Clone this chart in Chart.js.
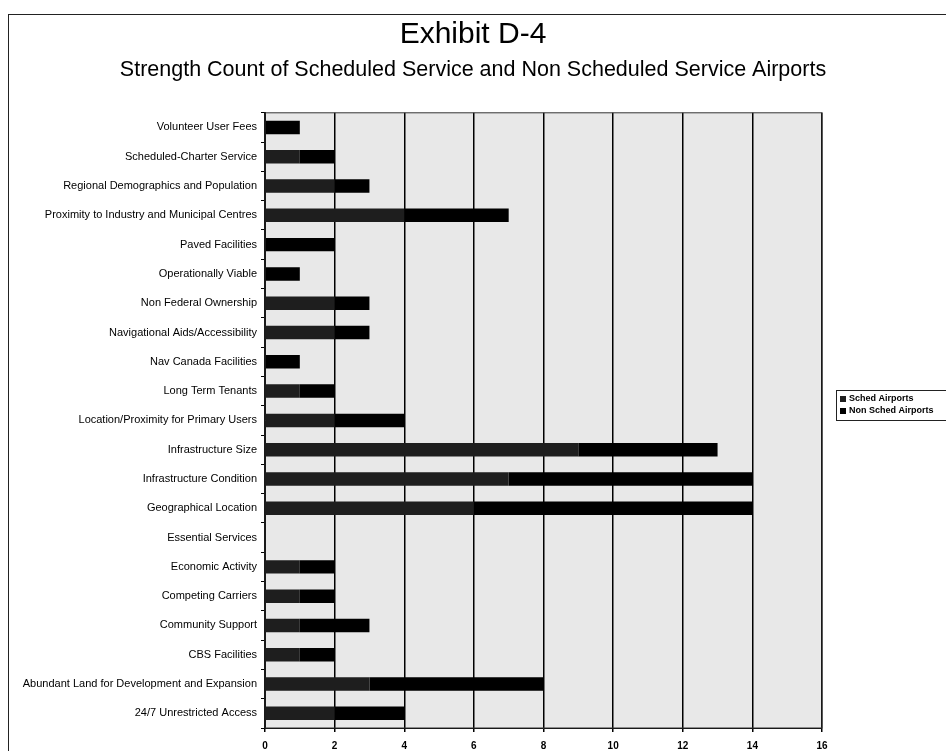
<!DOCTYPE html>
<html lang="en">
<head>
    <meta charset="UTF-8">
    <title>Exhibit D-4</title>
    <script src="https://cdn.jsdelivr.net/npm/chart.js"></script>
    <style>
        body { margin: 0; background: white; overflow: hidden; }
        .chart-container { width: 946px; height: 751px; }
    </style>
</head>
<body>
    <div class="chart-container">
        <canvas id="strengthChart" width="946" height="751"></canvas>
    </div>

    <script>
        // categories, top to bottom as in the exhibit
        const categories = [
            'Volunteer User Fees',
            'Scheduled-Charter Service',
            'Regional Demographics and Population',
            'Proximity to Industry and Municipal Centres',
            'Paved Facilities',
            'Operationally Viable',
            'Non Federal Ownership',
            'Navigational Aids/Accessibility',
            'Nav Canada Facilities',
            'Long Term Tenants',
            'Location/Proximity for Primary Users',
            'Infrastructure Size',
            'Infrastructure Condition',
            'Geographical Location',
            'Essential Services',
            'Economic Activity',
            'Competing Carriers',
            'Community Support',
            'CBS Facilities',
            'Abundant Land for Development and Expansion',
            '24/7 Unrestricted Access'
        ];

        // the scan barely separates the two series, split is estimated
        const schedAirports    = [0, 1, 2, 4, 0, 0, 2, 2, 0, 1, 2, 9, 7, 6, 0, 1, 1, 1, 1, 3, 2];
        const nonSchedAirports = [1, 1, 1, 3, 2, 1, 1, 1, 1, 1, 2, 4, 7, 8, 0, 1, 1, 2, 1, 5, 2];

        const xTicks = [0, 2, 4, 6, 8, 10, 12, 14, 16];

        const seriesNames = ['Sched Airports', 'Non Sched Airports'];
        const seriesColors = ['#1e1e1e', '#000000'];

        const FONT = '"Liberation Sans", Arial, sans-serif';

        // grey plot background + page frame + boxed legend
        const decorPlugin = {
            id: 'decor',
            beforeDraw(chart) {
                const ctx = chart.ctx;
                const a = chart.chartArea;
                ctx.save();
                ctx.fillStyle = 'white';
                ctx.fillRect(0, 0, chart.width, chart.height);
                ctx.fillStyle = '#e8e8e8';
                ctx.fillRect(a.left, a.top, a.right - a.left, a.bottom - a.top);
                ctx.restore();
            },
            afterDraw(chart) {
                const ctx = chart.ctx;
                const a = chart.chartArea;
                ctx.save();
                // outer frame (runs off the page right and bottom)
                ctx.strokeStyle = '#222';
                ctx.lineWidth = 1;
                ctx.strokeRect(8.5, 14.5, 960, 760);
                // plot border
                ctx.strokeStyle = '#333';
                ctx.strokeRect(a.left, a.top, a.right - a.left, a.bottom - a.top);

                // legend
                const lx = 836, ly = 390;
                ctx.fillStyle = 'white';
                ctx.fillRect(lx, ly, 120, 30);
                ctx.strokeStyle = '#222';
                ctx.strokeRect(lx + 0.5, ly + 0.5, 120, 30);
                ctx.font = 'bold 9px ' + FONT;
                ctx.textBaseline = 'middle';
                chart.data.datasets.forEach((ds, i) => {
                    const y = ly + 9 + i * 12;
                    ctx.fillStyle = ds.backgroundColor;
                    ctx.fillRect(lx + 4, y - 3, 6, 6);
                    ctx.fillStyle = '#000';
                    ctx.fillText(ds.label, lx + 13, y);
                });
                ctx.restore();
            }
        };

        const ctx = document.getElementById('strengthChart').getContext('2d');
        new Chart(ctx, {
            type: 'bar',
            data: {
                labels: categories,
                datasets: [
                    { label: seriesNames[0], data: schedAirports, backgroundColor: seriesColors[0] },
                    { label: seriesNames[1], data: nonSchedAirports, backgroundColor: seriesColors[1] }
                ]
            },
            options: {
                indexAxis: 'y',
                responsive: false,
                animation: false,
                devicePixelRatio: 1,
                layout: { padding: { left: 8, right: 8, top: 12, bottom: 0 } },
                datasets: {
                    bar: { categoryPercentage: 1, barPercentage: 0.46 }
                },
                plugins: {
                    legend: { display: false },
                    tooltip: { enabled: false },
                    title: {
                        display: true,
                        text: 'Exhibit D-4',
                        color: '#000',
                        font: { family: FONT, size: 30, weight: 'normal' },
                        padding: { top: 5, bottom: 0 }
                    },
                    subtitle: {
                        display: true,
                        text: 'Strength Count of Scheduled Service and Non Scheduled Service Airports',
                        color: '#000',
                        font: { family: FONT, size: 21.5, weight: 'normal' },
                        padding: { top: 4, bottom: 30 }
                    }
                },
                scales: {
                    x: {
                        stacked: true,
                        min: 0,
                        max: 16,
                        afterBuildTicks(scale) {
                            scale.ticks = xTicks.map(v => ({ value: v }));
                        },
                        afterFit(scale) { scale.height = 23; },
                        grid: { color: '#000', lineWidth: 1.5, drawTicks: true, tickLength: 4 },
                        border: { color: '#000' },
                        ticks: {
                            color: '#000',
                            padding: 8,
                            font: { family: FONT, size: 10, weight: 'bold' }
                        }
                    },
                    y: {
                        stacked: true,
                        afterFit(scale) { scale.width = 257; },
                        grid: { drawOnChartArea: false, color: '#000', tickLength: 4 },
                        border: { color: '#000' },
                        ticks: {
                            color: '#000',
                            padding: 4,
                            autoSkip: false,
                            font: { family: FONT, size: 11, weight: 'normal' }
                        }
                    },
                    // empty band on the right, leaves room for the legend
                    legendSpace: {
                        type: 'linear',
                        position: 'right',
                        afterFit(scale) { scale.width = 116; },
                        grid: { display: false },
                        border: { display: false },
                        ticks: { display: false }
                    }
                }
            },
            plugins: [decorPlugin]
        });
    </script>
</body>
</html>
